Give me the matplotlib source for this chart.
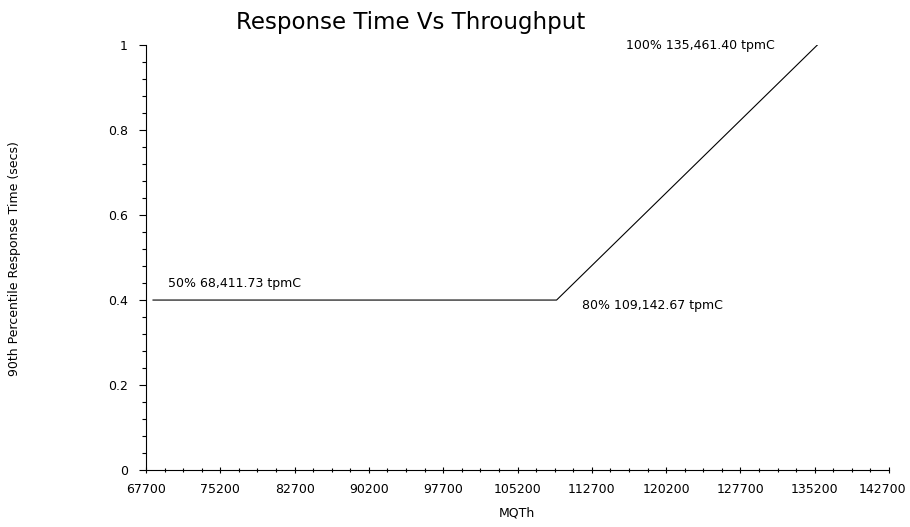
import matplotlib
matplotlib.use("Agg")
import matplotlib.pyplot as plt
from matplotlib.ticker import AutoMinorLocator
from matplotlib.transforms import ScaledTranslation

plt.rcParams['font.family'] = ['DejaVu Sans']

# data
mqth = [68411.73, 109142.67, 135461.40]
resp = [0.4, 0.4, 1.0]
labels = ['50% 68,411.73 tpmC', '80% 109,142.67 tpmC', '100% 135,461.40 tpmC']
xticks = [67700, 75200, 82700, 90200, 97700, 105200, 112700, 120200, 127700, 135200, 142700]
yticks = [0, 0.2, 0.4, 0.6, 0.8, 1]

fig = plt.figure(figsize=(9.1, 5.27), dpi=100)
ax = fig.add_axes([0.1604, 0.108, 0.8166, 0.8066])

ax.plot(mqth, resp, color='black', linewidth=0.8)

# label offsets in pixels (x, y, horizontal alignment)
offs = [(15, 17, 'left'), (25, -5, 'left'), (-43, 0, 'right')]
for x, y, t, (dx, dy, ha) in zip(mqth, resp, labels, offs):
    ax.annotate(t, (x, y), xytext=(dx, dy), textcoords='offset pixels',
                ha=ha, va='center', fontsize=9)

ax.set_xlim(xticks[0], xticks[-1])
ax.set_ylim(0, 1)
ax.set_xticks(xticks)
ax.set_xticklabels([str(v) for v in xticks])
ax.set_yticks(yticks)
ax.set_yticklabels(['0', '0.2', '0.4', '0.6', '0.8', '1'])
ax.xaxis.set_minor_locator(AutoMinorLocator(4))
ax.yaxis.set_minor_locator(AutoMinorLocator(5))
ax.tick_params(axis='both', which='major', labelsize=9, length=5, width=0.8)
ax.tick_params(axis='both', which='minor', length=3, width=0.8)
ax.tick_params(axis='x', which='both', direction='inout')
ax.tick_params(axis='x', which='major', pad=7)
ax.tick_params(axis='y', which='major', pad=8)

# last x label is pulled in so it stays inside the picture
last = ax.get_xticklabels()[-1]
last.set_transform(last.get_transform() + ScaledTranslation(-0.07, 0, fig.dpi_scale_trans))

for s in ['top', 'right']:
    ax.spines[s].set_visible(False)

fig.text(517 / 910, 1 - 513 / 527, 'MQTh', ha='center', va='center', fontsize=9)
fig.text(15 / 910, 0.51, '90th Percentile Response Time (secs)', rotation=90,
         ha='center', va='center', fontsize=9)
fig.text(0.451, 0.958, 'Response Time Vs Throughput', ha='center', va='center', fontsize=16.5)

fig.savefig('out.png', dpi=100)
